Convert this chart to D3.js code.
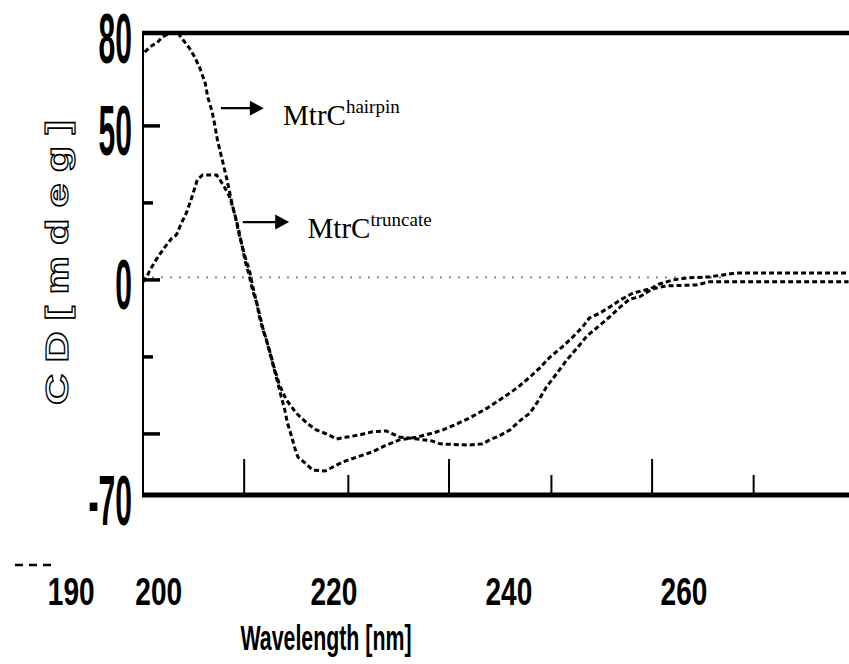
<!DOCTYPE html>
<html><head><meta charset="utf-8">
<script src="https://cdn.jsdelivr.net/npm/d3@7"></script>
<style>body{margin:0;background:#fff}svg{display:block}</style>
</head><body>
<svg id="chart" width="849" height="664"></svg>
<script>
// ---- data ----
const hairpinWl = [198.4,199.0,199.9,200.4,201.3,202.2,202.6,203.5,204.1,204.7,205.3,205.6,206.1,206.4,206.7,207.2,207.8,208.4,209.0,209.5,209.9,210.4,210.7,211.2,211.5,211.9,212.3,212.7,213.0,213.2,213.6,214.0,214.4,214.7,215.2,215.5,215.9,216.7,217.6,219.0,221.0,222.6,224.4,226.0,227.5,229.5,231.3,232.4,234.0,235.5,237.5,238.9,240.1,241.2,242.4,243.5,244.7,246.1,247.3,248.4,249.2,250.4,251.5,252.7,254.2,256.1,257.2,258.7,260.3,262.9,266.0,278.8];
const hairpinCd = [73.8,75.5,77.1,78.7,80,80,78.4,75.1,72.2,68.6,63.8,59.2,54.4,50.1,45.3,39.4,32.3,24.2,17.7,11.2,5.6,0.5,-3.4,-7.7,-12.2,-16.4,-19.7,-23.9,-27.1,-29.4,-33.6,-38.2,-42.4,-46.6,-51.2,-54.4,-57.7,-59.6,-61.9,-62.2,-59.3,-57.7,-56.0,-53.8,-52.1,-51.2,-49.9,-48.9,-47.0,-45.0,-41.8,-39.2,-36.9,-34.6,-31.7,-28.8,-25.2,-21.9,-18.7,-15.5,-12.5,-10.9,-9.0,-6.7,-4.4,-3.1,-1.5,-0.2,0.5,0.8,2.1,2.1];

const truncateWl = [198.2,198.6,199.0,199.9,200.7,201.5,202.0,202.6,203.2,203.8,204.4,205.0,206.6,207.0,207.5,208.1,208.7,209.2,209.8,210.4,210.7,211.2,211.9,212.7,213.2,213.8,214.6,215.7,216.9,218.0,219.2,220.3,221.5,222.9,224.4,226.0,227.5,229.5,231.3,232.1,235.2,237.0,237.8,238.9,240.1,241.2,242.4,243.2,244.3,245.5,246.6,247.7,248.9,250.0,251.5,252.7,253.8,254.9,256.4,258.0,261.4,262.9,278.8];
const truncateCd = [-0.8,0.5,3.1,7.3,10.5,13.4,14.4,18.3,21.9,26.8,32.3,33.9,33.9,32.3,30.0,26.8,20.9,14.4,7.9,2.4,-1.8,-7.7,-15.8,-23.6,-28.8,-34.3,-39.2,-43.4,-46.6,-48.9,-50.2,-51.8,-51.2,-50.5,-49.5,-49.2,-51.2,-51.8,-52.5,-53.4,-53.8,-53.4,-52.1,-50.8,-48.9,-46.0,-43.4,-40.1,-34.9,-30.4,-26.2,-22.6,-18.4,-15.8,-12.2,-9.0,-6.4,-5.7,-3.1,-2.1,-1.8,-0.8,-0.8];

const yTickLabels = [80, 50, 0, -70];
const yTickMarks = [50, 25, 0, -25, -50];
const xTickLabels = [190, 200, 220, 240, 260];
const xTickMarks = [209.7, 221.6, 233.1, 244.8, 256.3, 267.9];

const seriesNames = ["hairpin", "truncate"];
// annotation arrows (data coords): [wlStart, wlEnd, cd]
const arrowWl0 = [207.1, 209.6];
const arrowWl1 = [212.0, 214.9];
const arrowCd = [55.6, 18.6];
const labelWl = [214.2, 217.0];
const labelCd = [50.1, 13.4];

// ---- layout ----
const svg = d3.select("#chart");
const x = d3.scaleLinear().domain([198.2, 278.85]).range([143, 849]);
const y = d3.scaleLinear().domain([-70, 80]).range([495, 33]);

// zero dotted line
svg.append("line")
  .attr("x1", x(198.2)).attr("x2", x(265))
  .attr("y1", y(0) - 2).attr("y2", y(0) - 2)
  .attr("stroke", "#7a7a7a").attr("stroke-width", 1.8)
  .attr("stroke-dasharray", "2,7");

// frame: left thin axis, thick top and bottom
svg.append("line").attr("x1", x(198.2)).attr("x2", x(198.2))
  .attr("y1", y(80)).attr("y2", y(-70)).attr("stroke", "#000").attr("stroke-width", 2);
svg.append("line").attr("x1", x(198.2) - 1).attr("x2", 849)
  .attr("y1", y(80)).attr("y2", y(80)).attr("stroke", "#000").attr("stroke-width", 4.5);
svg.append("line").attr("x1", x(198.2) - 1).attr("x2", 849)
  .attr("y1", y(-70)).attr("y2", y(-70)).attr("stroke", "#000").attr("stroke-width", 5);

// y tick marks (inward, alternating lengths)
const yAxis = d3.axisRight(y).tickValues(yTickMarks).tickSize(17).tickFormat("");
const gy = svg.append("g").attr("transform", `translate(${x(198.2)},0)`).call(yAxis);
gy.select(".domain").remove();
gy.selectAll(".tick line").attr("stroke", "#000").attr("stroke-width", 3.5)
  .attr("x2", (d, i) => i % 2 === 0 ? 17 : 10);

// x tick marks (upward, alternating lengths)
const xAxis = d3.axisTop(x).tickValues(xTickMarks).tickSize(36).tickFormat("");
const gx = svg.append("g").attr("transform", `translate(0,${y(-70)})`).call(xAxis);
gx.select(".domain").remove();
gx.selectAll(".tick line").attr("stroke", "#000").attr("stroke-width", 2)
  .attr("y2", (d, i) => i % 2 === 0 ? -36 : -20);

// curves
const line = d3.line().x(d => x(d[0])).y(d => y(d[1]));
const seriesData = [d3.zip(hairpinWl, hairpinCd), d3.zip(truncateWl, truncateCd)];
svg.selectAll("path.series").data(seriesData).join("path")
  .attr("class", "series")
  .attr("d", line)
  .attr("fill", "none").attr("stroke", "#000")
  .attr("stroke-width", 3)
  .attr("stroke-dasharray", "5,3");

// y tick labels (tall condensed)
const yl = svg.selectAll("g.ylab").data(yTickLabels).join("g")
  .attr("class", "ylab")
  .attr("transform", d => `translate(132,${y(d) + 30})`);
yl.append("text")
  .attr("transform", "scale(0.43,1)")
  .attr("text-anchor", "end")
  .attr("font-family", "'Liberation Sans', Arial, sans-serif")
  .attr("font-weight", "bold").attr("font-size", 70)
  .text(d => d);

// x tick labels
const xl = svg.selectAll("g.xlab").data(xTickLabels).join("g")
  .attr("class", "xlab")
  .attr("transform", d => `translate(${x(d)},605)`);
xl.append("text")
  .attr("transform", "scale(0.72,1)")
  .attr("text-anchor", "middle")
  .attr("font-family", "'Liberation Sans', Arial, sans-serif")
  .attr("font-weight", "bold").attr("font-size", 39)
  .text(d => d);

// stray dashes at bottom-left
svg.append("line").attr("x1", 15).attr("x2", 57).attr("y1", 565).attr("y2", 565)
  .attr("stroke", "#000").attr("stroke-width", 2.5).attr("stroke-dasharray", "8,6");

// x axis title
svg.append("g").attr("transform", "translate(326,650)")
  .append("text").attr("transform", "scale(0.61,1)")
  .attr("text-anchor", "middle")
  .attr("font-family", "'Liberation Sans', Arial, sans-serif")
  .attr("font-weight", "bold").attr("font-size", 35)
  .text("Wavelength [nm]");

// y axis title (outlined letters)
svg.append("g").attr("transform", "translate(68,257) rotate(-90)")
  .append("text").attr("transform", "scale(1.35,1)")
  .attr("text-anchor", "middle")
  .attr("font-family", "'Liberation Sans', Arial, sans-serif")
  .attr("font-weight", "bold").attr("font-size", 32)
  .attr("letter-spacing", 8.3)
  .attr("fill", "#fff").attr("stroke", "#000").attr("stroke-width", 1.3)
  .text("CD[mdeg]");

// annotation arrows
const ann = svg.selectAll("g.ann").data(seriesNames).join("g").attr("class", "ann");
ann.append("line")
  .attr("x1", (d, i) => x(arrowWl0[i]))
  .attr("x2", (d, i) => x(arrowWl1[i]) - 12)
  .attr("y1", (d, i) => y(arrowCd[i]))
  .attr("y2", (d, i) => y(arrowCd[i]))
  .attr("stroke", "#000").attr("stroke-width", 2.2);
ann.append("path")
  .attr("d", (d, i) => {
    const xe = x(arrowWl1[i]), ye = y(arrowCd[i]);
    return `M${xe},${ye} L${xe - 14},${ye - 7.5} L${xe - 14},${ye + 7.5} Z`;
  })
  .attr("fill", "#000");
const lt = ann.append("text")
  .attr("x", (d, i) => x(labelWl[i]))
  .attr("y", (d, i) => y(labelCd[i]))
  .attr("font-family", "'Liberation Serif', 'Times New Roman', serif")
  .attr("font-size", 29).attr("fill", "#000");
lt.append("tspan").text("MtrC");
lt.append("tspan").attr("dy", -12).attr("font-size", 19).text(d => d);
</script>
</body></html>
